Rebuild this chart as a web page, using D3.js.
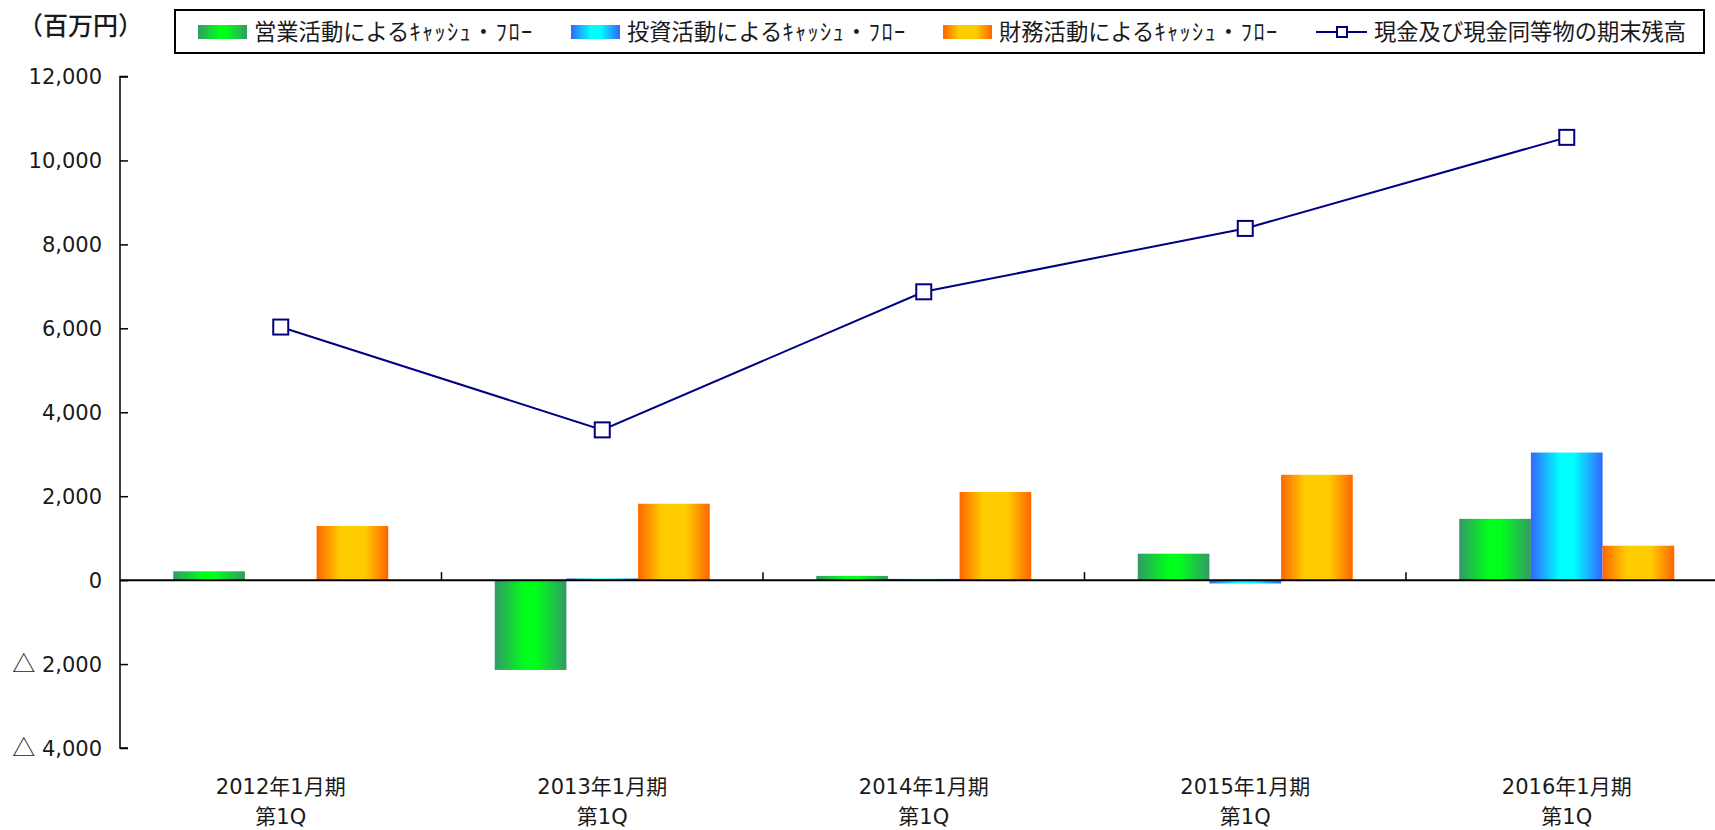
<!DOCTYPE html>
<html><head><meta charset="utf-8">
<script src="https://cdn.jsdelivr.net/npm/d3@7"></script>
<style>
html,body{margin:0;padding:0;background:#fff;}
svg{display:block;}
text{font-family:"DejaVu Sans","Noto Sans CJK JP",sans-serif;fill:#1a1a1a;}
</style></head><body>
<svg id="chart" width="1715" height="830"></svg>
<script>
const categories = ["2012年1月期", "2013年1月期", "2014年1月期", "2015年1月期", "2016年1月期"];
const subLabel = "第1Q";
const seriesHeads = ["営業活動による", "投資活動による", "財務活動による"];
const seriesTail = "ｷｬｯｼｭ・ﾌﾛｰ";
const lineName = "現金及び現金同等物の期末残高";
const operating = [210, -2140, 100, 630, 1460];
const investing = [0, 40, 30, -80, 3040];
const financing = [1290, 1820, 2100, 2510, 820];
const cashEnd = [6030, 3580, 6870, 8380, 10550];
const yTicks = [-4000, -2000, 0, 2000, 4000, 6000, 8000, 10000, 12000];
const unitLabel = "（百万円）";

const svg = d3.select("#chart");
const defs = svg.append("defs");
const grads = [
  {id:"gGreen", stops:[[0,"#339966"],[0.42,"#00ff1a"],[0.58,"#00ff1a"],[1,"#339966"]]},
  {id:"gBlue", stops:[[0,"#3366ff"],[0.4,"#00ffff"],[0.6,"#00ffff"],[1,"#3366ff"]]},
  {id:"gOrange", stops:[[0,"#ff6600"],[0.33,"#ffcc00"],[0.67,"#ffcc00"],[1,"#ff6600"]]}
];
grads.forEach(g=>{
  const lg = defs.append("linearGradient").attr("id",g.id).attr("x1","0").attr("y1","0").attr("x2","1").attr("y2","0");
  g.stops.forEach(s=>lg.append("stop").attr("offset",s[0]).attr("stop-color",s[1]));
});

const axisX = 120, bandLeft = 120, bandRight = 1727.5;
const y = d3.scaleLinear().domain([-4000, 12000]).range([748, 76.5]);
const x0 = d3.scaleBand().domain(categories).range([bandLeft, bandRight]).paddingInner(0.3313).paddingOuter(0.16565);
const x1 = d3.scaleBand().domain([0,1,2]).range([0, x0.bandwidth()]);
const seriesVals = [operating, investing, financing];

// bars
seriesVals.forEach((vals, si)=>{
  svg.append("g").selectAll("rect").data(vals).join("rect")
    .attr("x",(d,i)=>x0(categories[i]) + x1(si))
    .attr("width", x1.bandwidth())
    .attr("y", d=>y(Math.max(0,d)))
    .attr("height", d=>Math.abs(y(d)-y(0)))
    .attr("fill", `url(#${grads[si].id})`);
});

// y axis
const yAxis = d3.axisRight(y).tickValues(yTicks).tickSize(8).tickFormat("");
const gy = svg.append("g").attr("transform",`translate(${axisX},0)`).call(yAxis);
gy.select(".domain").attr("stroke","#000").attr("stroke-width",1.5).attr("d",`M8,${y(12000)}H0V${y(-4000)}H8`);
gy.selectAll(".tick line").attr("stroke","#000").attr("stroke-width",1.5);
const fmt = d3.format(",");
const yl = svg.append("g").selectAll("text").data(yTicks).join("text")
  .attr("x",102).attr("y",d=>y(d)).attr("dy","0.36em").attr("text-anchor","end")
  .style("font-size","21px");
yl.each(function(d){
  const t = d3.select(this);
  if (d < 0) {
    t.append("tspan").style("font-family","'Noto Sans CJK JP',sans-serif").style("font-size","23px").text("△");
    t.append("tspan").text(" " + fmt(-d));
  } else {
    t.text(fmt(d));
  }
});

// zero line
svg.append("line").attr("x1",axisX).attr("x2",1715).attr("y1",y(0)).attr("y2",y(0)).attr("stroke","#000").attr("stroke-width",2);
// category ticks
const bounds = d3.range(1, categories.length).map(i=>bandLeft + i*x0.step());
svg.append("g").selectAll("line").data(bounds).join("line")
  .attr("x1",d=>d).attr("x2",d=>d).attr("y1",y(0)).attr("y2",y(0)-8)
  .attr("stroke","#000").attr("stroke-width",1.5);

// x labels
const cx = c => x0(c) + x0.bandwidth()/2;
svg.append("g").selectAll("text").data(categories).join("text")
  .attr("x",cx).attr("y",786).attr("dy","0.36em").attr("text-anchor","middle").style("font-size","21px").text(d=>d);
svg.append("g").selectAll("text").data(categories).join("text")
  .attr("x",cx).attr("y",816).attr("dy","0.36em").attr("text-anchor","middle").style("font-size","21px").text(subLabel);

// line
const line = d3.line().x((d,i)=>cx(categories[i])).y(d=>y(d));
svg.append("path").datum(cashEnd).attr("d",line).attr("fill","none").attr("stroke","#000080").attr("stroke-width",2);
const ms = 15;
svg.append("g").selectAll("rect").data(cashEnd).join("rect")
  .attr("x",(d,i)=>cx(categories[i])-ms/2).attr("y",d=>y(d)-ms/2)
  .attr("width",ms).attr("height",ms).attr("fill","#fff").attr("stroke","#000080").attr("stroke-width",2);

// unit label
svg.append("text").attr("x",18).attr("y",26).attr("dy","0.36em").style("font-size","25px").style("font-weight","500")
  .style("font-family","'Noto Sans CJK JP',sans-serif").text(unitLabel);

// legend
svg.append("rect").attr("x",175).attr("y",10).attr("width",1529).attr("height",43).attr("fill","#fff").attr("stroke","#000").attr("stroke-width",2);
const legItems = [
  {sw:198, tx:254, head:seriesHeads[0], grad:"gGreen"},
  {sw:571, tx:627, head:seriesHeads[1], grad:"gBlue"},
  {sw:943, tx:999, head:seriesHeads[2], grad:"gOrange"}
];
const lg = svg.append("g");
legItems.forEach(it=>{
  lg.append("rect").attr("x",it.sw).attr("y",25).attr("width",49).attr("height",14).attr("fill",`url(#${it.grad})`);
  const t = lg.append("text").attr("x",it.tx).attr("y",32).attr("dy","0.36em").style("font-size","22.3px").style("font-family","'Noto Sans CJK JP',sans-serif");
  t.append("tspan").text(it.head);
  t.append("tspan").style("letter-spacing","1.4px").text(seriesTail);
});
lg.append("line").attr("x1",1316).attr("x2",1367).attr("y1",32).attr("y2",32).attr("stroke","#000080").attr("stroke-width",2);
lg.append("rect").attr("x",1337).attr("y",27).attr("width",10).attr("height",10).attr("fill","#fff").attr("stroke","#000080").attr("stroke-width",2);
lg.append("text").attr("x",1374).attr("y",32).attr("dy","0.36em").style("font-size","22.3px").style("font-family","'Noto Sans CJK JP',sans-serif").text(lineName);
</script>
</body></html>
